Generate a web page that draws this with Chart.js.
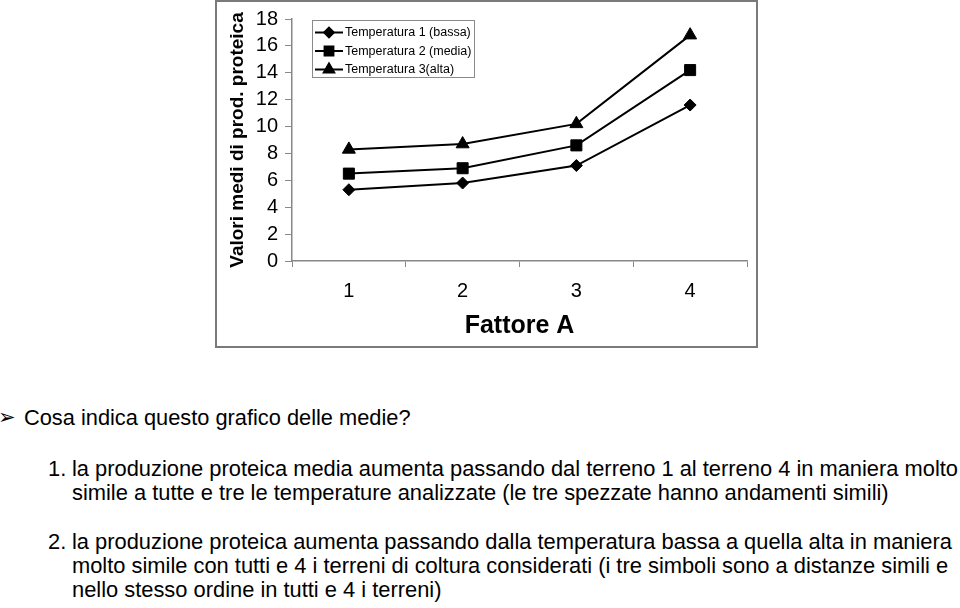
<!DOCTYPE html>
<html>
<head>
<meta charset="utf-8">
<script src="https://cdn.jsdelivr.net/npm/chart.js@4/dist/chart.umd.min.js"></script>
<style>
    html, body { margin: 0; padding: 0; background: #fff; }
    body { width: 960px; height: 608px; position: relative; overflow: hidden; font-family: "Liberation Sans", Arial, sans-serif; color: #000; }
    #chartBox { position: absolute; left: 215px; top: 0; width: 543px; height: 348px; }
    #chartBorder { position: absolute; left: 215px; top: 0; width: 543px; height: 348px; box-sizing: border-box; border: 2px solid #7a7a7a; pointer-events: none; }
    .line { position: absolute; white-space: nowrap; line-height: 24px; }
    .bullet { font-family: "DejaVu Sans", sans-serif; font-size: 21px; }
    .question { font-size: 21.8px; }
    .narrow { font-family: "Liberation Sans", Arial, sans-serif; font-size: 22px; transform-origin: 0 50%; }
</style>
</head>
<body>
<div id="chartBox"><canvas id="meansChart" width="543" height="348"></canvas></div>
<div id="chartBorder"></div>

<div class="line bullet" style="left:-2px; top:405px;">➢</div>
<div class="line question" style="left:24px; top:406px;">Cosa indica questo grafico delle medie?</div>

<div class="line narrow" style="left:48px; top:457px;">1.</div>
<div class="line narrow" id="firstLine" style="left:72px; top:457px;">la produzione proteica media aumenta passando dal terreno 1 al terreno 4 in maniera molto</div>
<div class="line narrow" style="left:72px; top:481px;">simile a tutte e tre le temperature analizzate (le tre spezzate hanno andamenti simili)</div>

<div class="line narrow" style="left:48px; top:530px;">2.</div>
<div class="line narrow" style="left:72px; top:530px;">la produzione proteica aumenta passando dalla temperatura bassa a quella alta in maniera</div>
<div class="line narrow" style="left:72px; top:554px;">molto simile con tutti e 4 i terreni di coltura considerati (i tre simboli sono a distanze simili e</div>
<div class="line narrow" style="left:72px; top:578px;">nello stesso ordine in tutti e 4 i terreni)</div>

<script>
// Data
const fattoreA = ['1', '2', '3', '4'];
const seriesLabels = ['Temperatura 1 (bassa)', 'Temperatura 2 (media)', 'Temperatura 3(alta)'];
const tempBassa = [5.3, 5.8, 7.1, 11.6];
const tempMedia = [6.5, 6.9, 8.6, 14.2];
const tempAlta = [8.3, 8.7, 10.2, 16.8];
const yTicks = [0, 2, 4, 6, 8, 10, 12, 14, 16, 18];

const pointStyles = ['rectRot', 'rect', 'triangle'];
const pointSizes = [6, 7.8, 7.5];

// keep the list lines at the width they have in the original
const firstLine = document.getElementById('firstLine');
const squeeze = 886 / firstLine.getBoundingClientRect().width;
document.querySelectorAll('.narrow').forEach(el => {
    el.style.transform = `scaleX(${squeeze})`;
});

// Legend drawn inside the plot area, as in the original
const innerLegend = {
    id: 'innerLegend',
    afterDatasetsDraw(chart) {
        const ctx = chart.ctx;
        const area = chart.chartArea;
        const x = area.left + 20;
        const y = area.top + 1;
        ctx.save();
        ctx.fillStyle = '#fff';
        ctx.fillRect(x, y, 162, 57);
        ctx.strokeStyle = '#8a8a8a';
        ctx.lineWidth = 1;
        ctx.strokeRect(x + 0.5, y + 0.5, 162, 57);
        ctx.font = '12.5px "Liberation Sans", Arial, sans-serif';
        ctx.textBaseline = 'middle';
        chart.data.datasets.forEach((ds, i) => {
            const rowY = y + 12.5 + i * 18.5;
            ctx.strokeStyle = '#000';
            ctx.lineWidth = 2;
            ctx.beginPath();
            ctx.moveTo(x + 3, rowY);
            ctx.lineTo(x + 31, rowY);
            ctx.stroke();
            ctx.fillStyle = '#000';
            Chart.helpers.drawPoint(ctx, {
                pointStyle: ds.pointStyle,
                radius: ds.pointRadius * 0.8,
                rotation: 0,
                borderWidth: 1
            }, x + 17, rowY);
            ctx.fillStyle = '#000';
            ctx.fillText(ds.label, x + 33, rowY + 0.5);
        });
        ctx.restore();
    }
};

const makeDataset = (i, values) => ({
    label: seriesLabels[i],
    data: values,
    borderColor: '#000',
    backgroundColor: '#000',
    borderWidth: 2,
    pointStyle: pointStyles[i],
    pointRadius: pointSizes[i],
    pointBorderWidth: 1,
    pointBackgroundColor: '#000',
    pointBorderColor: '#000',
    tension: 0
});

const ctx = document.getElementById('meansChart').getContext('2d');
new Chart(ctx, {
    type: 'line',
    data: {
        labels: fattoreA,
        datasets: [
            makeDataset(0, tempBassa),
            makeDataset(1, tempMedia),
            makeDataset(2, tempAlta)
        ]
    },
    options: {
        responsive: false,
        animation: false,
        devicePixelRatio: 1,
        layout: { padding: { top: 16, right: 11, bottom: 0, left: 0 } },
        plugins: {
            legend: { display: false },
            tooltip: { enabled: false }
        },
        scales: {
            x: {
                offset: true,
                grid: { offset: true, drawOnChartArea: false, tickLength: 6, color: '#888' },
                border: { color: '#888', width: 1.5 },
                ticks: { color: '#000', padding: 12, font: { family: '"Liberation Sans", Arial', size: 20 } },
                title: {
                    display: true,
                    text: 'Fattore A',
                    color: '#000',
                    font: { family: '"Liberation Sans", Arial', size: 25, weight: 'bold' },
                    padding: { top: 0, bottom: 7 }
                },
                afterFit(scale) { scale.height = 87; }
            },
            y: {
                min: 0,
                max: 18,
                afterBuildTicks(scale) { scale.ticks = yTicks.map(v => ({ value: v })); },
                grid: { drawOnChartArea: false, tickLength: 7, color: '#888' },
                border: { color: '#888', width: 1.5 },
                ticks: { color: '#000', padding: 7, autoSkip: false, font: { family: '"Liberation Sans", Arial', size: 20 } },
                title: {
                    display: true,
                    text: 'Valori medi di prod. proteica',
                    color: '#000',
                    font: { family: '"Liberation Sans", Arial', size: 19, weight: 'bold' },
                    padding: { top: 11, bottom: 0 }
                },
                afterFit(scale) { scale.width = 77; }
            }
        }
    },
    plugins: [innerLegend]
});
</script>
</body>
</html>
